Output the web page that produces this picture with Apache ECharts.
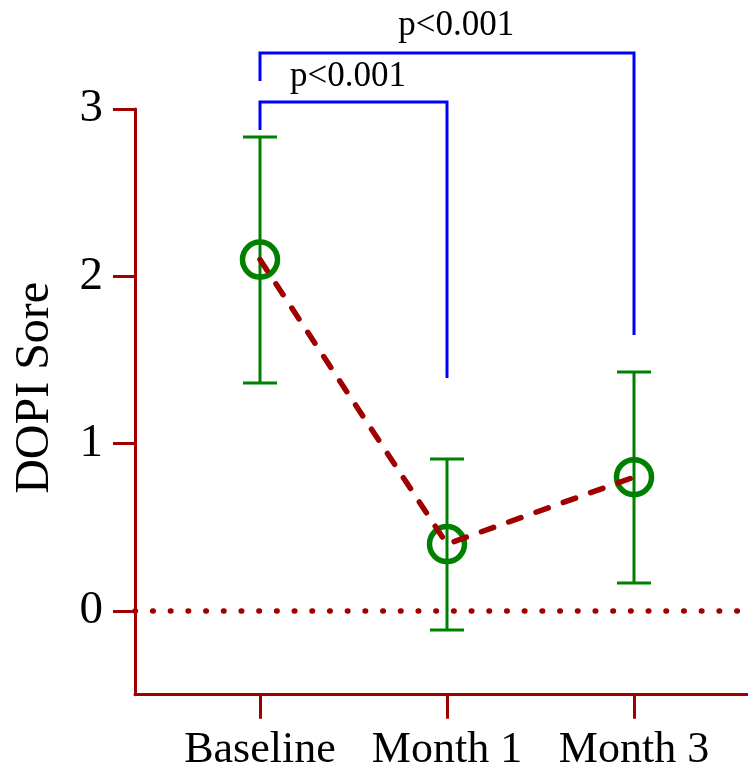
<!DOCTYPE html>
<html>
<head>
<meta charset="utf-8">
<script src="https://cdn.jsdelivr.net/npm/echarts@6/dist/echarts.min.js"></script>
<style>html,body{margin:0;padding:0;background:#fff;}#c{width:748px;height:769px;}</style>
</head>
<body>
<div id="c"></div>
<script>
// ---- data ----
const categories = ['Baseline', 'Month 1', 'Month 3'];
const xPos = [1, 2, 3];
const means = [2.10, 0.40, 0.80];
const lower = [1.363, -0.114, 0.167];
const upper = [2.833, 0.908, 1.428];
const yTicks = [0, 1, 2, 3];
// significance brackets: [x, y] points
const bracket1 = [[1, 2.875], [1, 3.042], [2, 3.042], [2, 1.392]];
const bracket2 = [[1, 3.167], [1, 3.335], [3, 3.335], [3, 1.649]];
const pLabels = ['p<0.001', 'p<0.001'];
const pLabelPos = [[1.47, 3.19], [2.05, 3.50]];

const RED = '#A00000';
const GREEN = '#008000';
const BLUE = '#0000FF';
const FONT = '"Liberation Serif", "Times New Roman", serif';

const chart = echarts.init(document.getElementById('c'), null, {renderer: 'canvas'});

const errData = xPos.map((x, i) => [x, lower[i], upper[i]]);
const meanData = xPos.map((x, i) => [x, means[i]]);

const option = {
  animation: false,
  backgroundColor: '#fff',
  grid: {left: 135, right: 0, top: 109, bottom: 74.3, containLabel: false, outerBoundsMode: 'none'},
  xAxis: {
    type: 'value',
    min: 0.3316,
    max: 3.6096,
    axisLine: {show: true, onZero: false, lineStyle: {color: RED, width: 3}},
    axisTick: {show: true, customValues: xPos, length: 24, lineStyle: {color: RED, width: 3}},
    axisLabel: {
      show: true, customValues: xPos, margin: 34,
      fontFamily: FONT, fontSize: 44, color: '#000',
      formatter: v => categories[xPos.indexOf(v)] || ''
    },
    splitLine: {show: false}
  },
  yAxis: {
    type: 'value',
    min: -0.5,
    max: 3,
    name: 'DOPI Sore',
    nameLocation: 'middle',
    nameGap: 76,
    nameRotate: 90,
    nameTextStyle: {fontFamily: FONT, fontSize: 48, color: '#000', padding: [0, 0, 0, 28]},
    axisLine: {show: true, onZero: false, lineStyle: {color: RED, width: 3}},
    axisTick: {show: true, customValues: yTicks, length: 22, lineStyle: {color: RED, width: 3}},
    axisLabel: {show: true, customValues: yTicks, margin: 32, fontFamily: FONT, fontSize: 47, color: '#000'},
    splitLine: {show: false}
  },
  series: [
    {
      type: 'custom',
      name: 'error',
      z: 2,
      clip: false,
      data: errData,
      renderItem: function (params, api) {
        const x = api.value(0);
        const pLo = api.coord([x, api.value(1)]);
        const pHi = api.coord([x, api.value(2)]);
        const hw = 17;
        const st = {stroke: GREEN, lineWidth: 3, fill: null};
        return {
          type: 'group',
          children: [
            {type: 'line', shape: {x1: pHi[0], y1: pHi[1], x2: pLo[0], y2: pLo[1]}, style: st},
            {type: 'line', shape: {x1: pHi[0] - hw, y1: pHi[1], x2: pHi[0] + hw, y2: pHi[1]}, style: st},
            {type: 'line', shape: {x1: pLo[0] - hw, y1: pLo[1], x2: pLo[0] + hw, y2: pLo[1]}, style: st}
          ]
        };
      }
    },
    {
      type: 'scatter',
      name: 'means',
      z: 3,
      clip: false,
      symbol: 'circle',
      symbolSize: 35,
      itemStyle: {color: 'rgba(0,0,0,0)', borderColor: GREEN, borderWidth: 5.5, opacity: 1},
      data: meanData,
      markLine: {
        silent: true,
        symbol: ['none', 'none'],
        label: {show: false},
        lineStyle: {color: RED, width: 5.5, type: [0.5, 17.2], cap: 'round', opacity: 1},
        data: [{yAxis: 0}]
      }
    },
    {
      type: 'line',
      name: 'trend',
      z: 4,
      data: meanData,
      symbol: 'none',
      lineStyle: {color: RED, width: 5.5, type: [13, 16], cap: 'round'}
    },
    {
      type: 'line', name: 'b1', z: 2, clip: false, symbol: 'none',
      data: bracket1,
      lineStyle: {color: BLUE, width: 3, join: 'miter', cap: 'butt'}
    },
    {
      type: 'line', name: 'b2', z: 2, clip: false, symbol: 'none',
      data: bracket2,
      lineStyle: {color: BLUE, width: 3, join: 'miter', cap: 'butt'}
    },
    {
      type: 'custom', name: 'ptext', z: 5, clip: false,
      data: pLabelPos.map((p, i) => [p[0], p[1], i]),
      renderItem: function (params, api) {
        const pt = api.coord([api.value(0), api.value(1)]);
        return {
          type: 'text',
          x: pt[0], y: pt[1],
          style: {
            text: pLabels[api.value(2)],
            fill: '#000',
            font: '35px ' + FONT,
            align: 'center',
            verticalAlign: 'middle'
          }
        };
      }
    }
  ]
};
chart.setOption(option);
</script>
</body>
</html>
